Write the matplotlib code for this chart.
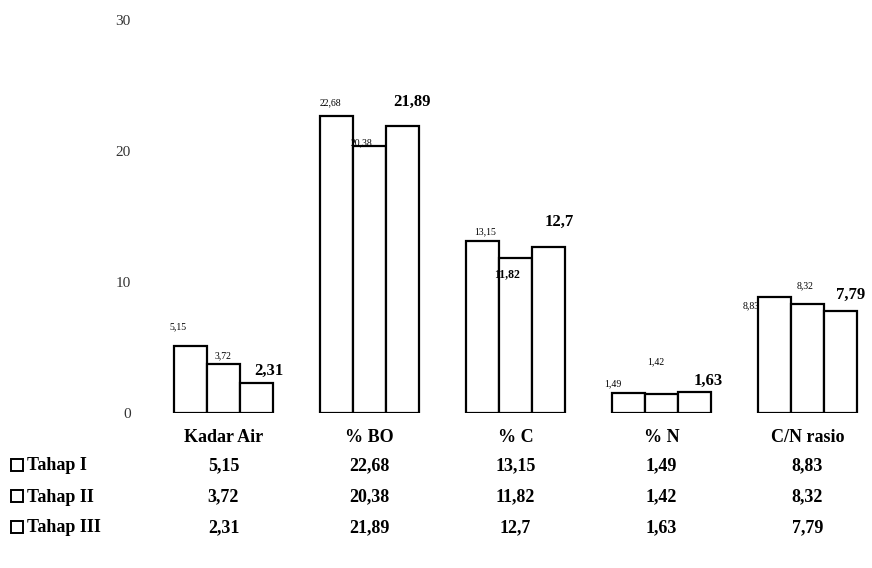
import matplotlib
matplotlib.use('Agg')
import matplotlib.pyplot as plt
import matplotlib.transforms as mtransforms
from matplotlib.patches import Rectangle
import numpy as np

# === DATA ===
categories = ['Kadar Air', '% BO', '% C', '% N', 'C/N rasio']
series_names = ['Tahap I', 'Tahap II', 'Tahap III']
tahap1 = [5.15, 22.68, 13.15, 1.49, 8.83]
tahap2 = [3.72, 20.38, 11.82, 1.42, 8.32]
tahap3 = [2.31, 21.89, 12.7, 1.63, 7.79]
yticks = [0, 10, 20, 30]

def fmt(v):
    return f'{v:g}'.replace('.', ',')

plt.rcParams['font.family'] = ['Liberation Serif', 'DejaVu Serif']

fig = plt.figure(figsize=(8.72, 5.68), dpi=100)
ax = fig.add_axes([150/872, 155/568, 722/872, 393/568])

x = np.arange(len(categories))
w = 0.226
series = [tahap1, tahap2, tahap3]
for i, vals in enumerate(series):
    ax.bar(x + (i - 1) * w, vals, w, color='white', edgecolor='black', linewidth=1.6)

# data labels (Excel-like placement, offsets in points)
label_style = [dict(fontsize=7, fontweight='normal'),
               dict(fontsize=7, fontweight='normal'),
               dict(fontsize=12, fontweight='bold')]
offsets = [
    [(-9, 10), (-4, 6), (2, 3), (-11, 4), (-17, -9)],
    [(0, 3), (-6, -1), (-6, -16), (-4, 20), (-2, 10)],
    [(9, 3), (7, 12), (8, 12), (10, 2), (7, 6)],
]
for i, vals in enumerate(series):
    for j, v in enumerate(vals):
        st = dict(label_style[i])
        if i == 1 and j == 2:
            st = dict(fontsize=8.5, fontweight='bold')
        ax.annotate(fmt(v), xy=(x[j] + (i - 1) * w, v), xytext=offsets[i][j],
                    textcoords='offset points', ha='center', va='bottom', **st)

ax.set_xlim(-0.503, -0.503 + 722 / 146)
ax.set_ylim(0, 30)
ax.set_yticks(yticks)
ax.set_yticklabels([str(t) for t in yticks], fontsize=11, color='#333333')
ax.tick_params(axis='y', length=0, pad=14)
ax.set_xticks([])
for s in ax.spines.values():
    s.set_visible(False)

# category labels and data table
trans = mtransforms.blended_transform_factory(ax.transData, fig.transFigure)
for j, c in enumerate(categories):
    ax.text(x[j], 131 / 568, c, transform=trans, ha='center', va='center',
            fontsize=13, fontweight='bold', clip_on=False)

row_y = [102 / 568, 71 / 568, 40 / 568]
for i, vals in enumerate(series):
    fig.patches.append(Rectangle((11 / 872, row_y[i] - 5 / 568), 12 / 872, 12 / 568,
                                 transform=fig.transFigure, facecolor='white',
                                 edgecolor='black', linewidth=1.4))
    fig.text(27 / 872, row_y[i], series_names[i], ha='left', va='center',
             fontsize=13, fontweight='bold')
    for j, v in enumerate(vals):
        ax.text(x[j], row_y[i], fmt(v), transform=trans, ha='center', va='center',
                fontsize=13, fontweight='bold', clip_on=False)

plt.savefig('out.png', dpi=100)
